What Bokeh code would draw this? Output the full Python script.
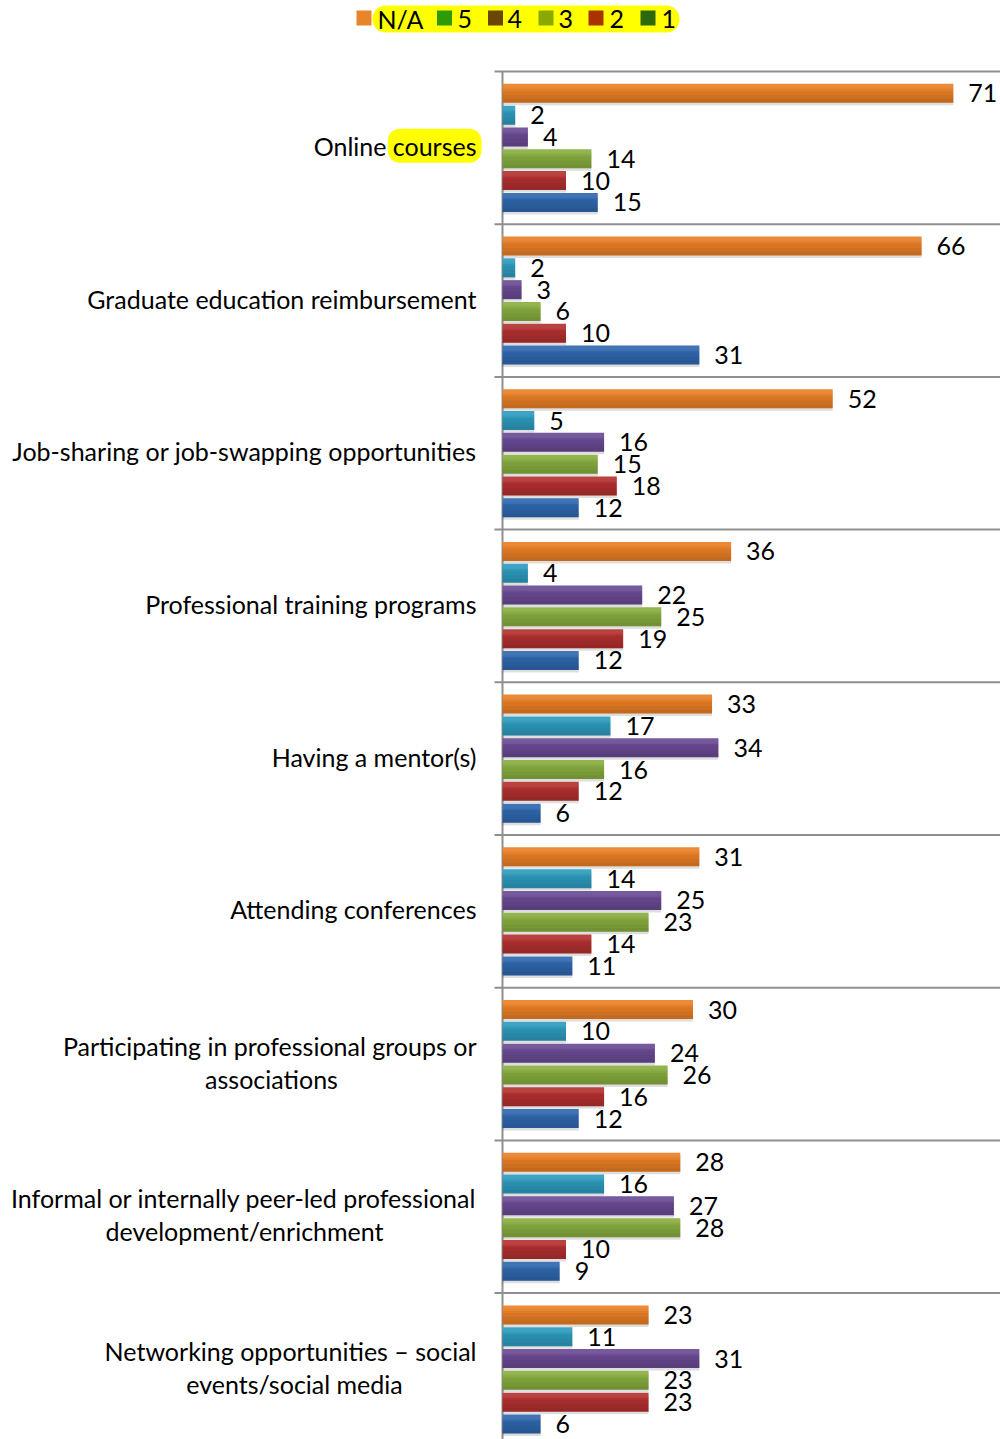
from bokeh.plotting import figure
from bokeh.models import Range1d, Label, BoxAnnotation
from bokeh.embed import file_html
from bokeh.resources import INLINE
from bokeh.core.properties import value

# ---- data ----
categories = [
    "Online courses",
    "Graduate education reimbursement",
    "Job-sharing or job-swapping opportunities",
    "Professional training programs",
    "Having a mentor(s)",
    "Attending conferences",
    "Participating in professional groups or\nassociations",
    "Informal or internally peer-led professional\ndevelopment/enrichment",
    "Networking opportunities \u2013 social\nevents/social media",
]
series_names = ["N/A", "5", "4", "3", "2", "1"]
vals_na = [71, 66, 52, 36, 33, 31, 30, 28, 23]
vals_5 = [2, 2, 5, 4, 17, 14, 10, 16, 11]
vals_4 = [4, 3, 16, 22, 34, 25, 24, 27, 31]
vals_3 = [14, 6, 15, 25, 16, 23, 26, 28, 23]
vals_2 = [10, 10, 18, 19, 12, 14, 16, 10, 23]
vals_1 = [15, 31, 12, 12, 6, 11, 12, 9, 6]
all_series = [vals_na, vals_5, vals_4, vals_3, vals_2, vals_1]

bar_colors = ["#EC8126", "#2E9DC0", "#6C4C96", "#89AF40", "#B53231", "#3069B0"]
legend_colors = ["#E8842A", "#2E9A06", "#6B4504", "#8BA800", "#A83200", "#2D6A0E"]

FONT = "Lato"
FS = "25px"
GRID = "#8f8f8f"
PX_PER_UNIT = 6.35     # pixels per value unit
CAT_PX = 152.7         # pixels per category band
AXIS_PX = 502          # page x of the value axis
TOP_PX = 71            # page y of the first band's top

n_cat = len(categories)

def px_x(px):
    return (px - AXIS_PX) / PX_PER_UNIT

def px_y(py):
    return (py - TOP_PX) / CAT_PX

p = figure(width=1000, height=1439,
           x_range=Range1d(px_x(0), px_x(1000)),
           y_range=Range1d(px_y(1439), px_y(0)),
           output_backend="svg", toolbar_location=None,
           x_axis_location=None, y_axis_location=None,
           min_border=0)
p.outline_line_color = None
p.grid.visible = False
p.background_fill_color = "white"

# band separators (with small outward ticks) and the value axis line
bounds = list(range(n_cat + 1))
p.segment(x0=[px_x(494)] * len(bounds), x1=[px_x(1000)] * len(bounds),
          y0=bounds, y1=bounds, line_color=GRID, line_width=2)
p.segment(x0=[0], x1=[0], y0=[0], y1=[n_cat], line_color=GRID, line_width=2)

# bars + value labels
bar_h = 19 / CAT_PX
for j, (vals, col) in enumerate(zip(all_series, bar_colors)):
    ys = [i + (j + 1) / 7 for i in range(n_cat)]
    # soft shadow
    p.hbar(y=[y + 2.5 / CAT_PX for y in ys], left=0, right=vals, height=bar_h,
           fill_color="#000000", fill_alpha=0.13, line_color=None)
    p.hbar(y=ys, left=0, right=vals, height=bar_h, fill_color=col,
           line_color=None)
    # top-to-bottom darkening (gradient look)
    for k in range(1, 5):
        frac = k / 5
        p.hbar(y=[y + bar_h / 2 - bar_h * frac / 2 for y in ys], left=0,
               right=vals, height=bar_h * frac, fill_color="#000000",
               fill_alpha=0.045, line_color=None)
    p.hbar(y=[y - bar_h / 2 + bar_h * 0.15 for y in ys], left=0, right=vals,
           height=bar_h * 0.3, fill_color="#ffffff", fill_alpha=0.08,
           line_color=None)
    p.text(x=vals, y=ys, text=[str(v) for v in vals], x_offset=15,
           y_offset=0, text_baseline="middle", text_align="left",
           text_font=value(FONT), text_font_size=FS, text_color="black")

# category labels
line_gap = 16.5 / CAT_PX
lift = 2 / CAT_PX
second_line_centers = {6: 271, 7: 244, 8: 294}
for i, cat in enumerate(categories):
    yc = i + 0.5 - lift
    if i == 0:
        p.add_layout(Label(x=px_x(481), y=yc, text="courses",
                           text_align="right", text_baseline="middle",
                           text_font=FONT, text_font_size=FS, text_color="black",
                           background_fill_color="#FFFF00", border_radius=12,
                           padding=dict(left=5, right=5, top=2, bottom=2)))
        p.add_layout(Label(x=px_x(386), y=yc, text="Online",
                           text_align="right", text_baseline="middle",
                           text_font=FONT, text_font_size=FS, text_color="black"))
    elif "\n" in cat:
        l1, l2 = cat.split("\n")
        p.add_layout(Label(x=px_x(476), y=yc - line_gap, text=l1,
                           text_align="right", text_baseline="middle",
                           text_font=FONT, text_font_size=FS, text_color="black"))
        p.add_layout(Label(x=px_x(second_line_centers[i]), y=yc + line_gap,
                           text=l2, text_align="center", text_baseline="middle",
                           text_font=FONT, text_font_size=FS, text_color="black"))
    else:
        p.add_layout(Label(x=px_x(476), y=yc, text=cat,
                           text_align="right", text_baseline="middle",
                           text_font=FONT, text_font_size=FS, text_color="black"))

# legend
p.add_layout(BoxAnnotation(left=px_x(372), right=px_x(679),
                           top=px_y(5), bottom=px_y(32),
                           fill_color="#FFFF00", fill_alpha=1, line_color=None,
                           border_radius=13, level="underlay"))
sq_px = [363.5, 444, 495, 545.5, 595.5, 647.5]
txt_px = [377, 457, 507, 558, 609, 661]
p.rect(x=[px_x(v) for v in sq_px], y=[px_y(17.5)] * 6, width=15, height=15,
       width_units="screen", height_units="screen",
       fill_color=legend_colors, line_color=None)
p.text(x=[px_x(v) for v in txt_px], y=[px_y(18)] * 6, text=series_names,
       text_baseline="middle", text_align="left", text_font=value(FONT),
       text_font_size=FS, text_color="black")

open("out.html", "w").write(file_html(p, INLINE))
